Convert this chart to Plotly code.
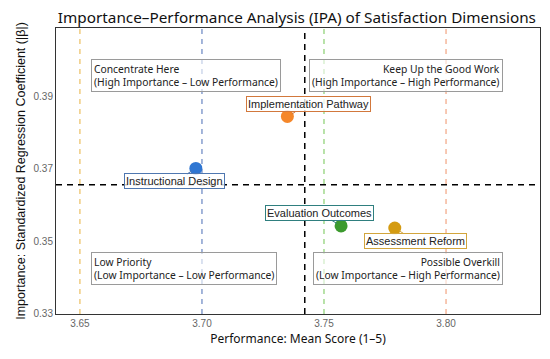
import plotly.graph_objects as go

# ---- data ----
dimensions = ["Implementation Pathway", "Instructional Design", "Evaluation Outcomes", "Assessment Reform"]
performance = [3.735, 3.6975, 3.757, 3.779]
importance = [0.3845, 0.3701, 0.3542, 0.3536]
marker_colors = ["#f5872a", "#2f76d2", "#3c9a2e", "#d49b12"]
label_borders = ["#d2783c", "#4f77b0", "#2f7f7f", "#d2a53c"]
label_dx = [21, -21, -22, 21]
label_dy = [-12, 13, -13, 13]

guide_x = [3.65, 3.70, 3.75, 3.80]
guide_colors = ["rgba(232,180,70,0.8)", "rgba(80,115,185,0.8)", "rgba(120,200,90,0.8)", "rgba(240,150,110,0.8)"]

mean_perf = sum(performance) / len(performance)
mean_imp = sum(importance) / len(importance)

x_ticks = [3.65, 3.70, 3.75, 3.80]
y_ticks = [0.33, 0.35, 0.37, 0.39]

quadrants = [
    ("Concentrate Here<br>(High Importance – Low Performance)", 0.0723, 0.892, "left", "top"),
    ("Keep Up the Good Work<br>(High Importance – High Performance)", 0.9236, 0.892, "right", "top"),
    ("Low Priority<br>(Low Importance – Low Performance)", 0.0723, 0.1014, "left", "bottom"),
    ("Possible Overkill<br>(Low Importance – High Performance)", 0.9236, 0.1014, "right", "bottom"),
]

fig = go.Figure()
fig.add_trace(go.Scatter(
    x=performance, y=importance, mode="markers",
    marker=dict(size=13, color=marker_colors, line=dict(width=0)),
    hovertext=dimensions, showlegend=False,
))

shapes = []
for gx, gc in zip(guide_x, guide_colors):
    shapes.append(dict(type="line", xref="x", yref="paper", x0=gx, x1=gx, y0=0, y1=1,
                       line=dict(color=gc, width=1.3, dash="5px,5px"), layer="below"))
shapes.append(dict(type="line", xref="x", yref="paper", x0=mean_perf, x1=mean_perf, y0=0, y1=1,
                   line=dict(color="black", width=1.5, dash="6px,5px"), layer="below"))
shapes.append(dict(type="line", xref="paper", yref="y", x0=0, x1=1, y0=mean_imp, y1=mean_imp,
                   line=dict(color="black", width=1.5, dash="6px,5px"), layer="below"))

annotations = []
for text, qx, qy, xa, ya in quadrants:
    annotations.append(dict(
        text=text, xref="paper", yref="paper", x=qx, y=qy, xanchor=xa, yanchor=ya,
        align=xa, showarrow=False,
        font=dict(family="Noto Sans", size=10.3, color="#222"),
        bgcolor="rgba(255,255,255,0.6)", bordercolor="#9a9a9a", borderwidth=1, borderpad=2,
    ))
for name, px, py, bc, dx, dy in zip(dimensions, performance, importance, label_borders, label_dx, label_dy):
    annotations.append(dict(
        text=name, x=px, y=py, xref="x", yref="y", ax=dx, ay=dy, axref="pixel", ayref="pixel",
        showarrow=True, arrowhead=0, arrowwidth=1, arrowcolor=bc, standoff=5,
        font=dict(family="Liberation Sans", size=11, color="#222"),
        bgcolor="rgba(255,255,255,0.8)", bordercolor=bc, borderwidth=1, borderpad=1,
    ))

fig.update_layout(
    width=534, height=343,
    margin=dict(l=48, r=2, t=20, b=37, autoexpand=False),
    paper_bgcolor="white", plot_bgcolor="white",
    title=dict(text="Importance–Performance Analysis (IPA) of Satisfaction Dimensions",
               x=0.541, xanchor="center", y=0.971, yanchor="middle",
               font=dict(family="Noto Sans", size=15.3, color="#111")),
    shapes=shapes, annotations=annotations,
    xaxis=dict(range=[3.6402, 3.8385], tickvals=x_ticks, ticktext=[f"{v:.2f}" for v in x_ticks],
               automargin=False,
               showgrid=False, zeroline=False, showline=True, mirror=True, linecolor="#333", linewidth=1,
               ticks="", tickfont=dict(family="Liberation Sans", size=10, color="#666"),
               title=dict(text="Performance: Mean Score (1–5)", standoff=6,
                          font=dict(family="Noto Sans", size=12, color="#111"))),
    yaxis=dict(range=[0.3298, 0.409], tickvals=y_ticks, ticktext=[f"{v:.2f}" for v in y_ticks],
               automargin=False,
               showgrid=False, zeroline=False, showline=True, mirror=True, linecolor="#333", linewidth=1,
               ticks="", tickfont=dict(family="Liberation Sans", size=10, color="#666"),
               title=dict(text="Importance: Standardized Regression Coefficient (|β|)", standoff=5,
                          font=dict(family="Liberation Sans", size=12.5, color="#111"))),
)

fig.write_html("out.html")
